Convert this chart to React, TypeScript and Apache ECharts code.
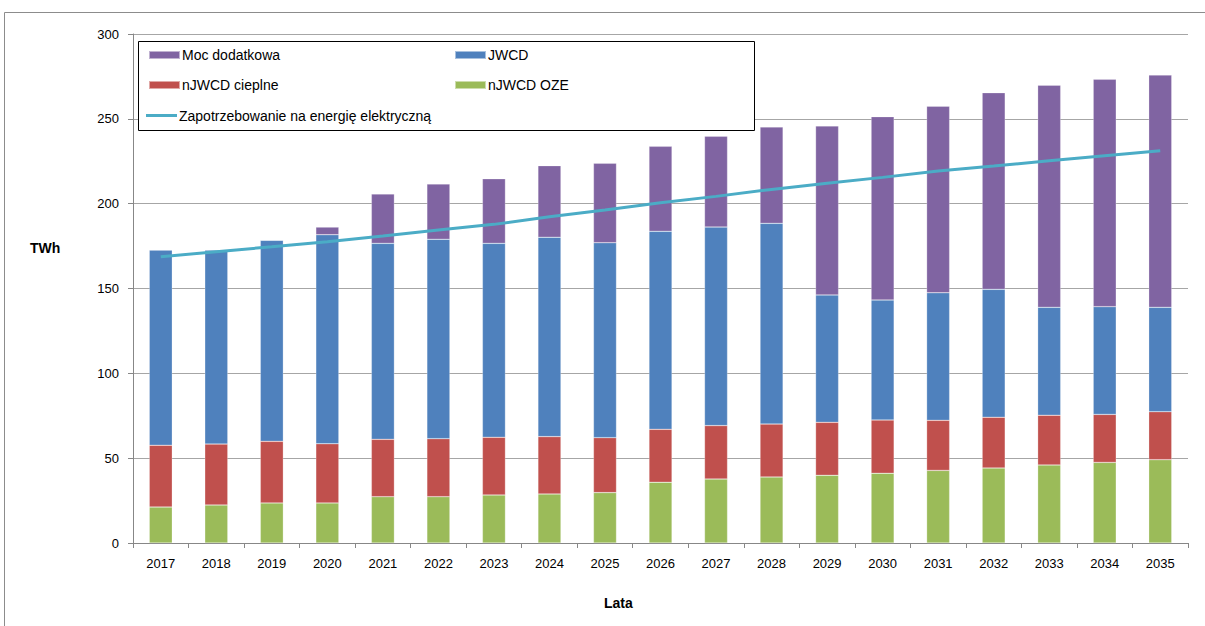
import React, { useEffect, useRef } from "react";
import * as echarts from "echarts";

const years = ["2017","2018","2019","2020","2021","2022","2023","2024","2025","2026","2027","2028","2029","2030","2031","2032","2033","2034","2035"];
const ozeValues = [21.2, 22.4, 23.6, 23.6, 27.3, 27.3, 28.3, 28.9, 29.7, 35.8, 37.7, 38.9, 39.9, 41.1, 42.8, 44.2, 46.0, 47.5, 49.1];
const cieplneValues = [36.4, 35.9, 36.3, 34.9, 33.8, 34.2, 34.0, 33.8, 32.4, 31.2, 31.5, 31.2, 31.2, 31.4, 29.5, 29.9, 29.3, 28.3, 28.3];
const jwcdValues = [115.1, 114.4, 118.5, 123.2, 115.5, 117.5, 114.3, 117.5, 114.9, 116.7, 117.0, 118.3, 75.1, 70.7, 75.2, 75.4, 63.6, 63.5, 61.5];
const mocValues = [0, 0, 0, 4.5, 29.1, 32.6, 38.1, 42.2, 46.8, 50.1, 53.5, 56.8, 99.6, 108.1, 109.9, 115.9, 130.9, 134.0, 136.9];
const demandValues = [168.7, 171.7, 174.6, 177.6, 180.9, 184.5, 187.8, 192.3, 196.3, 200.6, 204.3, 208.4, 212.0, 215.5, 219.2, 222.2, 225.3, 228.3, 231.2];
const yTicks = { min: 0, max: 300, interval: 50 };

const FONT = "'Liberation Sans', Arial, sans-serif";
const C = { moc: "#8064A2", jwcd: "#4F81BD", ciep: "#C0504D", oze: "#9BBB59", line: "#4BACC6" };

export default function App() {
  const ref = useRef<HTMLDivElement>(null);
  useEffect(() => {
    const chart = echarts.init(ref.current!, null, { renderer: "svg" });
    const legendBase = {
      orient: "horizontal",
      itemWidth: 31,
      itemHeight: 8,
      itemGap: 0,
      icon: "rect",
      z: 100,
      zlevel: 0,
      textStyle: { fontFamily: FONT, fontSize: 14, color: "#000", padding: [0, 0, 0, -3] },
      selectedMode: false,
      padding: 0,
    };
    const bar = (name: string, data: number[], color: string) => ({
      name,
      type: "bar",
      stack: "total",
      data,
      barWidth: 23,
      itemStyle: { color, borderColor: "rgba(255,255,255,0.5)", borderWidth: 0.5 },
    });
    chart.setOption({
      animation: false,
      textStyle: { fontFamily: FONT },
      grid: { left: 133, right: 17, top: 34, bottom: 83, containLabel: false },
      legend: [
        { ...legendBase, data: ["Moc dodatkowa"], left: 148, top: 48 },
        { ...legendBase, data: ["JWCD"], left: 454, top: 48 },
        { ...legendBase, data: ["nJWCD cieplne"], left: 148, top: 78 },
        { ...legendBase, data: ["nJWCD OZE"], left: 454, top: 78 },
        { ...legendBase, itemHeight: 3, data: ["Zapotrzebowanie na energię elektryczną"], left: 146, top: 108.5 },
      ],
      xAxis: {
        type: "category",
        data: years,
        boundaryGap: true,
        axisLine: { lineStyle: { color: "#878787", width: 1 } },
        axisTick: { show: true, length: 5, alignWithLabel: false, lineStyle: { color: "#878787" } },
        axisLabel: { fontSize: 13, color: "#000", margin: 14, fontFamily: FONT },
      },
      yAxis: {
        type: "value",
        min: yTicks.min,
        max: yTicks.max,
        interval: yTicks.interval,
        axisLine: { show: true, lineStyle: { color: "#878787" } },
        axisTick: { show: true, length: 5, lineStyle: { color: "#878787" } },
        axisLabel: { fontSize: 13, color: "#000", margin: 14, fontFamily: FONT },
        splitLine: { lineStyle: { color: "#A6A6A6", width: 1 } },
      },
      graphic: [
        { type: "rect", shape: { x: 4.5, y: 12.5, width: 1400, height: 800 }, style: { fill: "none", stroke: "#8C8C8C", lineWidth: 1 }, silent: true, z: -1 },
        { type: "rect", shape: { x: 138.5, y: 41.5, width: 616, height: 89 }, style: { fill: "#fff", stroke: "#000", lineWidth: 1 }, z: 20 },
        { type: "text", left: 30, top: 241, style: { text: "TWh", font: `bold 14px ${FONT}`, fill: "#000" } },
        { type: "text", left: 604, top: 596, style: { text: "Lata", font: `bold 14px ${FONT}`, fill: "#000" } },
      ],
      series: [
        bar("nJWCD OZE", ozeValues, C.oze),
        bar("nJWCD cieplne", cieplneValues, C.ciep),
        bar("JWCD", jwcdValues, C.jwcd),
        bar("Moc dodatkowa", mocValues, C.moc),
        {
          name: "Zapotrzebowanie na energię elektryczną",
          type: "line",
          data: demandValues,
          showSymbol: false,
          symbol: "none",
          lineStyle: { color: C.line, width: 3 },
          itemStyle: { color: C.line },
          z: 10,
        },
      ],
    });
    return () => chart.dispose();
  }, []);
  return (
    <div
      ref={ref}
      style={{ position: "fixed", left: 0, top: 0, width: 1205, height: 626, background: "#fff" }}
    />
  );
}
